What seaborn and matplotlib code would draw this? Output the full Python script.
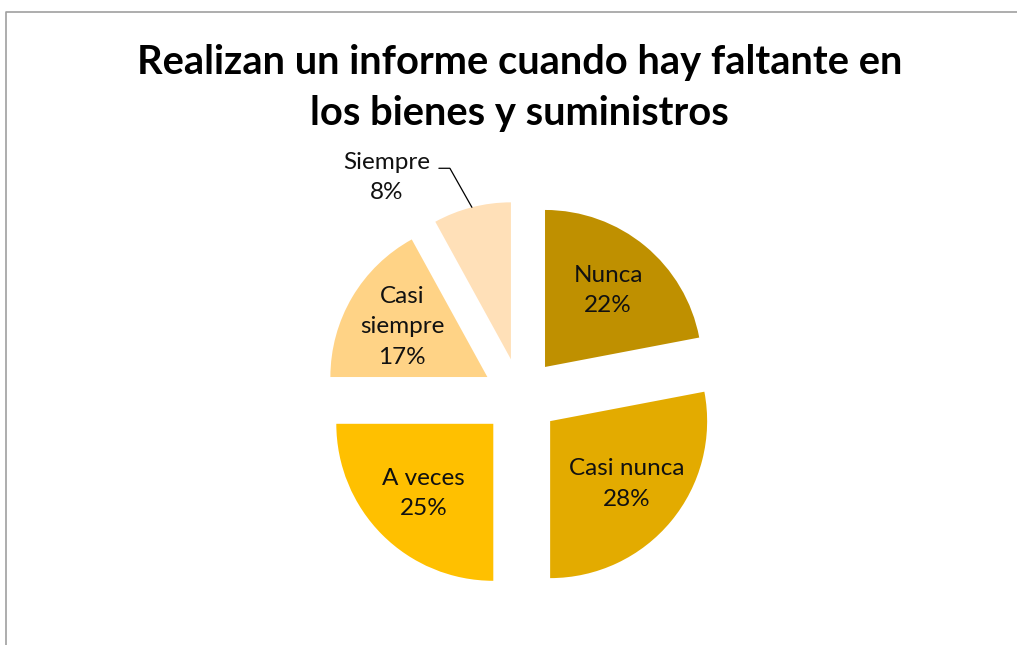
import numpy as np
import matplotlib
matplotlib.use("Agg")
import matplotlib.pyplot as plt
import seaborn as sns

sns.set_theme(style="white")
plt.rcParams['font.family'] = ['Lato', 'DejaVu Sans']

# data
categories = ['Nunca', 'Casi nunca', 'A veces', 'Casi siempre', 'Siempre']
label_text = ['Nunca', 'Casi nunca', 'A veces', 'Casi\nsiempre', 'Siempre']
percent = [22, 28, 25, 17, 8]
colors = ['#BF9000', '#E3AB00', '#FFC000', '#FFD386', '#FFE0B8']
title = 'Realizan un informe cuando hay faltante en\nlos bienes y suministros'

W, H = 1017, 645
fig = plt.figure(figsize=(W / 100, H / 100), dpi=100)
ax = fig.add_axes([0, 0, 1, 1])

# pie drawn in pixel units (y up); explode is an absolute offset here
center = (520.5, H - 396.6)
radius = 157
wedges, _ = ax.pie(percent, colors=colors, startangle=90, counterclock=False,
                   explode=[0.245 * radius] * len(percent), radius=radius,
                   center=center, wedgeprops=dict(linewidth=0))
ax.set_xlim(0, W)
ax.set_ylim(0, H)
ax.set_aspect('equal')
ax.axis('off')

lab_size = 17.5
for w, name, p in zip(wedges, label_text, percent):
    mid = np.deg2rad((w.theta1 + w.theta2) / 2)
    cx, cy = w.center
    d = np.array([np.cos(mid), np.sin(mid)])
    if p < 10:
        # outside label with leader line
        arc = np.array([cx, cy]) + radius * d
        elbow = arc + np.array([-22, 39])
        end = elbow + np.array([-11, 0])
        ax.plot([arc[0], elbow[0], end[0]], [arc[1], elbow[1], end[1]],
                color='black', lw=0.9)
        ax.text(end[0] - 52, end[1] - 9, f'{name}\n{p}%', ha='center', va='center',
                fontsize=lab_size, linespacing=1.55, color='#111111')
    else:
        tx, ty = cx + 0.63 * radius * d[0], cy + 0.63 * radius * d[1]
        ax.text(tx, ty, f'{name}\n{p}%', ha='center', va='center',
                fontsize=lab_size, linespacing=1.55, color='#111111')

fig.text(0.511, (H - 88) / H, title, ha='center', va='center',
         fontsize=28.7, fontweight='bold', linespacing=1.45, color='black')

# chart frame (clipped at the right and bottom)
ax.plot([5.5, 5.5, W + 5], [-5, H - 11.5, H - 11.5], color='#A0A0A0', lw=1.2,
        clip_on=False)

fig.savefig('out.png', dpi=100)
